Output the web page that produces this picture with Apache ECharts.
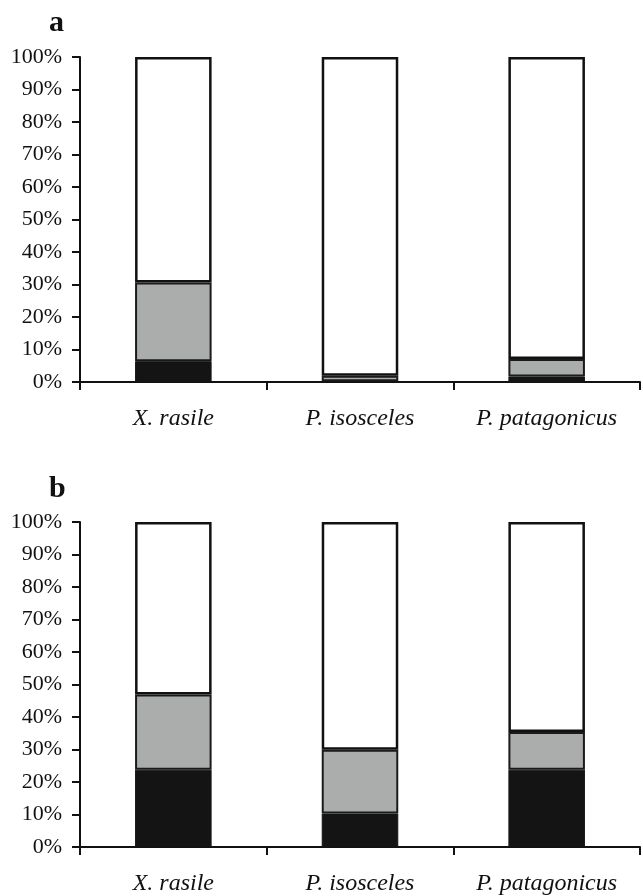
<!DOCTYPE html>
<html>
<head>
<meta charset="utf-8">
<script src="https://cdn.jsdelivr.net/npm/echarts@6/dist/echarts.min.js"></script>
<style>
html,body{margin:0;padding:0;background:#fff;}
#chart{width:643px;height:896px;}
</style>
</head>
<body>
<div id="chart"></div>
<script>
var categories = ['X. rasile', 'P. isosceles', 'P. patagonicus'];
var panelLabels = ['a', 'b'];
var yTicks = [0, 10, 20, 30, 40, 50, 60, 70, 80, 90, 100];
// panel a
var aBlack = [6.4, 0.2, 1.7];
var aGray = [24.2, 1.7, 5.4];
// panel b
var bBlack = [23.8, 10.3, 23.8];
var bGray = [23.1, 19.6, 11.6];

function rest(black, gray) {
  return black.map(function (v, i) { return 100 - v - gray[i]; });
}

var FONT = 'Liberation Serif';
var grids = [
  { left: 80, top: 57, width: 560, height: 325 },
  { left: 80, top: 522, width: 560, height: 325 }
];

function xAxis(gi) {
  return {
    type: 'category', gridIndex: gi, data: categories,
    axisLine: { lineStyle: { color: '#111', width: 2 } },
    axisTick: { show: true, length: 8, inside: false, lineStyle: { color: '#111', width: 2 } },
    axisLabel: { fontFamily: FONT, fontStyle: 'italic', fontSize: 24, color: '#111', margin: 25 }
  };
}
function yAxis(gi) {
  return {
    type: 'value', gridIndex: gi, min: yTicks[0], max: yTicks[yTicks.length - 1], interval: yTicks[1] - yTicks[0],
    axisLine: { show: true, lineStyle: { color: '#111', width: 2 } },
    axisTick: { show: true, length: 8, lineStyle: { color: '#111', width: 2 } },
    splitLine: { show: false },
    axisLabel: { fontFamily: FONT, fontSize: 22, color: '#111', margin: 18, formatter: '{value}%' }
  };
}
function seriesFor(gi, black, gray) {
  var common = { type: 'bar', stack: 's' + gi, xAxisIndex: gi, yAxisIndex: gi, barWidth: '41%', animation: false };
  return [
    Object.assign({}, common, { name: 'black' + gi, data: black, itemStyle: { color: '#141414', borderColor: '#141414', borderWidth: 1 } }),
    Object.assign({}, common, { name: 'gray' + gi, data: gray, itemStyle: { color: '#abadac', borderColor: '#1a1a1a', borderWidth: 2 } }),
    Object.assign({}, common, { name: 'white' + gi, data: rest(black, gray), itemStyle: { color: '#ffffff', borderColor: '#111', borderWidth: 2.5 } })
  ];
}

var chart = echarts.init(document.getElementById('chart'), null, { renderer: 'canvas' });
chart.setOption({
  animation: false,
  backgroundColor: '#fff',
  grid: grids,
  title: [
    { text: panelLabels[0], left: 44, top: 3, textStyle: { fontFamily: FONT, fontWeight: 'bold', fontSize: 30, color: '#111' } },
    { text: panelLabels[1], left: 44, top: 469, textStyle: { fontFamily: FONT, fontWeight: 'bold', fontSize: 30, color: '#111' } }
  ],
  xAxis: [xAxis(0), xAxis(1)],
  yAxis: [yAxis(0), yAxis(1)],
  series: seriesFor(0, aBlack, aGray).concat(seriesFor(1, bBlack, bGray))
});
</script>
</body>
</html>
